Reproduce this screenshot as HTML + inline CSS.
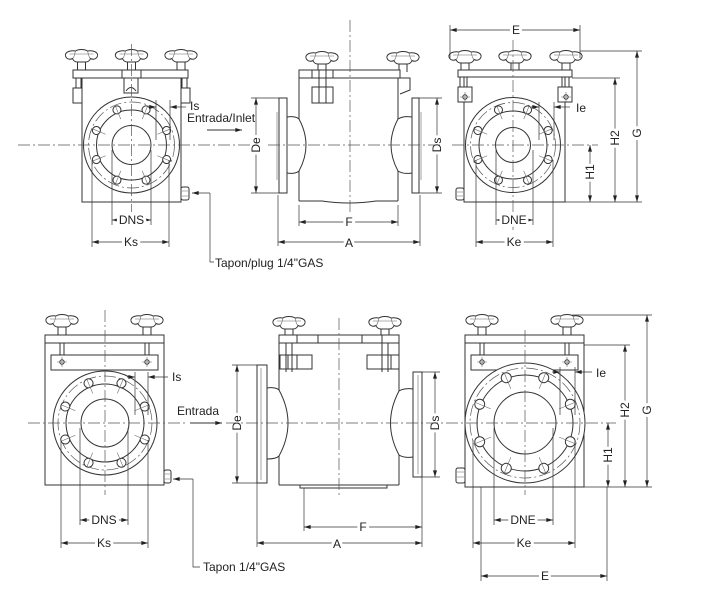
<!DOCTYPE html>
<html><head><meta charset="utf-8"><style>
html,body{margin:0;padding:0;background:#fff}
svg{display:block}
.l{stroke:#333;stroke-width:1;fill:none}
.f{stroke:#333;stroke-width:1;fill:#fff}
.c{stroke:#555;stroke-width:0.7;stroke-dasharray:12 3 2 3;fill:none}
.d{stroke:#333;stroke-width:0.7;fill:none}
.h{stroke:#666;stroke-width:0.6;fill:none}
text{font-family:"Liberation Sans",Arial,sans-serif;font-size:12px;fill:#222}
.t{paint-order:stroke;stroke:#fff;stroke-width:6px;stroke-linejoin:round}
</style></head><body>
<svg width="704" height="600" viewBox="0 0 704 600" xmlns="http://www.w3.org/2000/svg">
<defs>
<marker id="a" viewBox="0 0 10 6" refX="10" refY="3" markerWidth="7" markerHeight="4" orient="auto-start-reverse" markerUnits="userSpaceOnUse"><path d="M0,0 L10,3 L0,6 Z" fill="#222"/></marker>
<g id="knob">
<path class="f" d="M-16,6 C-17,2 -11,0 -6,1 C-3,-1 3,-1 6,1 C11,0 17,2 16,6 C15,9 12,10 9,8.5 C8,11 6,12 4,12 L-4,12 C-6,12 -8,11 -9,8.5 C-12,10 -15,9 -16,6 Z"/>
<path class="h" d="M-6,1 C-7,4 -7,7 -9,8.5 M6,1 C7,4 7,7 9,8.5 M-12,4 L12,4"/>
<path class="l" d="M-4,12 L-4,20 M4,12 L4,20"/>
</g>
<g id="pin"><circle class="l" cx="0" cy="0" r="2.2"/><path class="h" d="M-5,0 H5 M0,-5 V5"/></g>
</defs>

<!-- ================= TOP LEFT ================= -->
<g>
<use href="#knob" x="81.5" y="50"/><use href="#knob" x="131.5" y="50"/><use href="#knob" x="181" y="50"/>
<rect class="f" x="73" y="70" width="115" height="8"/>
<rect class="l" x="122" y="70" width="19" height="8"/>
<path class="l" d="M82,78 V202 H181 V78"/>
<path class="l" d="M76,78 V88 M81,78 V88"/><rect class="f" x="73" y="88" width="9" height="15"/>
<path class="l" d="M182,78 V88 M187,78 V88"/><rect class="f" x="181" y="88" width="9" height="15"/>
<path class="l" d="M124,78 V93 H138 V78 M126,91 Q131,84 136,91"/>
<circle class="f" cx="131.5" cy="145" r="48"/>
<circle class="c" cx="131.5" cy="145" r="43"/>
<circle class="l" cx="131.5" cy="145" r="35"/>
<circle class="l" cx="131.5" cy="145" r="19.5"/>
<g transform="translate(131.5,145)">
<g transform="rotate(22.5)"><circle class="f" cx="0" cy="-38" r="4"/><path class="h" d="M0,-42 V-28"/></g>
<g transform="rotate(67.5)"><circle class="f" cx="0" cy="-38" r="4"/><path class="h" d="M0,-42 V-28"/></g>
<g transform="rotate(112.5)"><circle class="f" cx="0" cy="-38" r="4"/><path class="h" d="M0,-42 V-28"/></g>
<g transform="rotate(157.5)"><circle class="f" cx="0" cy="-38" r="4"/><path class="h" d="M0,-42 V-28"/></g>
<g transform="rotate(202.5)"><circle class="f" cx="0" cy="-38" r="4"/><path class="h" d="M0,-42 V-28"/></g>
<g transform="rotate(247.5)"><circle class="f" cx="0" cy="-38" r="4"/><path class="h" d="M0,-42 V-28"/></g>
<g transform="rotate(292.5)"><circle class="f" cx="0" cy="-38" r="4"/><path class="h" d="M0,-42 V-28"/></g>
<g transform="rotate(337.5)"><circle class="f" cx="0" cy="-38" r="4"/><path class="h" d="M0,-42 V-28"/></g>
</g>
<path class="c" d="M131.5,44 V212"/>
<path class="d" d="M156,100 V140 M170,100 V140"/>
<path class="d" d="M148,107 H156" marker-end="url(#a)"/><path class="d" d="M186,107 H170" marker-end="url(#a)"/>
<text x="190" y="110">Is</text>
<text x="187" y="122">Entrada/Inlet</text>
<path class="l" d="M207,130 H242" stroke-width="1.3" marker-end="url(#a)"/>
<path class="d" d="M112,150 V225 M151,150 V225"/>
<path class="d" d="M112,220 H151" marker-start="url(#a)" marker-end="url(#a)"/>
<text class="t" x="131.5" y="224" text-anchor="middle">DNS</text>
<path class="d" d="M92,160 V247 M169,160 V247"/>
<path class="d" d="M92,242 H169" marker-start="url(#a)" marker-end="url(#a)"/>
<text class="t" x="131" y="246" text-anchor="middle">Ks</text>
<rect class="f" x="181" y="187" width="8" height="13" rx="2"/>
<path class="h" d="M182,191 H188 M182,196 H188"/>
<path class="d" d="M210,193 H192" marker-end="url(#a)"/>
<path class="d" d="M210,193 V262 H214"/>
<text x="215" y="267">Tapon/plug 1/4"GAS</text>
</g>

<!-- ================= TOP MIDDLE ================= -->
<g>
<use href="#knob" x="322" y="52"/><use href="#knob" x="403" y="52"/>
<rect class="f" x="299" y="70" width="101" height="8"/>
<path class="l" d="M312,70 V78 M333,70 V78"/>
<rect class="f" x="312" y="87" width="21" height="16"/>
<path class="l" d="M319,70 V103 M326,70 V103"/>
<path class="l" d="M399,78 H410 V90 L400,94"/>
<path class="l" d="M299,78 V119 M299,171 V201 M398,78 V119 M398,171 V201"/>
<path class="l" d="M299,201 H322 Q349,205 376,201 H398"/>
<rect class="f" x="279" y="98" width="8" height="95"/>
<path class="h" d="M277,112 V180"/>
<path class="l" d="M287,117 C292,116 297,117 299,119 Q313,145 299,171 C297,173 292,174 287,173"/>
<rect class="f" x="412" y="98" width="7" height="95"/>
<path class="h" d="M421,112 V180"/>
<path class="l" d="M412,117 C406,116 401,117 398,119 Q384,145 398,171 C401,173 406,174 412,173"/>
<path class="c" d="M350,20 V215"/>
<path class="d" d="M251,98 H279 M251,193 H279"/>
<path class="d" d="M256,98 V193" marker-start="url(#a)" marker-end="url(#a)"/>
<text class="t" transform="translate(260,145) rotate(-90)" text-anchor="middle">De</text>
<path class="d" d="M419,98 H442 M419,193 H442"/>
<path class="d" d="M437,98 V193" marker-start="url(#a)" marker-end="url(#a)"/>
<text class="t" transform="translate(441,145) rotate(-90)" text-anchor="middle">Ds</text>
<path class="d" d="M299,205 V226 M398,205 V226"/>
<path class="d" d="M299,222 H398" marker-start="url(#a)" marker-end="url(#a)"/>
<text class="t" x="349" y="226" text-anchor="middle">F</text>
<path class="d" d="M278,195 V246 M420,195 V246"/>
<path class="d" d="M278,242 H420" marker-start="url(#a)" marker-end="url(#a)"/>
<text class="t" x="349" y="247" text-anchor="middle">A</text>
</g>

<!-- ================= TOP RIGHT ================= -->
<g>
<use href="#knob" x="465" y="51"/><use href="#knob" x="515" y="51"/><use href="#knob" x="566" y="51"/>
<rect class="f" x="458" y="70" width="114" height="7"/>
<path class="l" d="M464,77 V202 H565 V77"/>
<path class="l" d="M460,77 V87 M467,77 V87"/><rect class="f" x="458" y="87" width="14" height="15"/><use href="#pin" x="465" y="97"/>
<path class="l" d="M562,77 V87 M569,77 V87"/><rect class="f" x="558" y="87" width="14" height="15"/><use href="#pin" x="566" y="97"/>
<circle class="f" cx="513" cy="145" r="47.5"/>
<circle class="c" cx="513" cy="145" r="42.5"/>
<circle class="l" cx="513" cy="145" r="34"/>
<circle class="l" cx="513" cy="145" r="17.5"/>
<g transform="translate(513,145)">
<g transform="rotate(22.5)"><circle class="f" cx="0" cy="-38" r="4"/><path class="h" d="M0,-42 V-28"/></g>
<g transform="rotate(67.5)"><circle class="f" cx="0" cy="-38" r="4"/><path class="h" d="M0,-42 V-28"/></g>
<g transform="rotate(112.5)"><circle class="f" cx="0" cy="-38" r="4"/><path class="h" d="M0,-42 V-28"/></g>
<g transform="rotate(157.5)"><circle class="f" cx="0" cy="-38" r="4"/><path class="h" d="M0,-42 V-28"/></g>
<g transform="rotate(202.5)"><circle class="f" cx="0" cy="-38" r="4"/><path class="h" d="M0,-42 V-28"/></g>
<g transform="rotate(247.5)"><circle class="f" cx="0" cy="-38" r="4"/><path class="h" d="M0,-42 V-28"/></g>
<g transform="rotate(292.5)"><circle class="f" cx="0" cy="-38" r="4"/><path class="h" d="M0,-42 V-28"/></g>
<g transform="rotate(337.5)"><circle class="f" cx="0" cy="-38" r="4"/><path class="h" d="M0,-42 V-28"/></g>
</g>
<path class="c" d="M513,40 V230"/>
<path class="d" d="M450,25 V58 M580,25 V58"/>
<path class="d" d="M450,30 H580" marker-start="url(#a)" marker-end="url(#a)"/>
<text class="t" x="516" y="34" text-anchor="middle">E</text>
<path class="d" d="M539,102 V140 M554,102 V140"/>
<path class="d" d="M531,107 H539" marker-end="url(#a)"/><path class="d" d="M570,107 H554" marker-end="url(#a)"/>
<text x="576" y="112">Ie</text>
<path class="d" d="M496,150 V225 M533,150 V225"/>
<path class="d" d="M496,220 H533" marker-start="url(#a)" marker-end="url(#a)"/>
<text class="t" x="514" y="224" text-anchor="middle">DNE</text>
<path class="d" d="M476,160 V247 M553,160 V247"/>
<path class="d" d="M476,242 H553" marker-start="url(#a)" marker-end="url(#a)"/>
<text class="t" x="514" y="246" text-anchor="middle">Ke</text>
<path class="d" d="M580,51 H642 M572,78 H620 M565,202 H642"/>
<path class="d" d="M590,145 V202" marker-start="url(#a)" marker-end="url(#a)"/>
<text class="t" transform="translate(594,172) rotate(-90)" text-anchor="middle">H1</text>
<path class="d" d="M615,78 V202" marker-start="url(#a)" marker-end="url(#a)"/>
<text class="t" transform="translate(619,138) rotate(-90)" text-anchor="middle">H2</text>
<path class="d" d="M637,51 V202" marker-start="url(#a)" marker-end="url(#a)"/>
<text class="t" transform="translate(641,133) rotate(-90)" text-anchor="middle">G</text>
<rect class="f" x="456" y="188" width="8" height="12" rx="2"/>
<path class="h" d="M457,192 H463 M457,196 H463"/>
</g>
<path class="c" d="M18,145 H250 M268,145 H440 M452,145 H598"/>

<!-- ================= BOTTOM LEFT ================= -->
<g>
<use href="#knob" x="62" y="315"/><use href="#knob" x="147" y="315"/>
<rect class="f" x="45" y="335" width="119" height="8"/>
<path class="l" d="M45,343 V485 H164 V343"/>
<path class="l" d="M60,343 V355 M64,343 V355 M145,343 V355 M149,343 V355"/>
<rect class="f" x="51" y="355" width="107" height="15"/>
<use href="#pin" x="62" y="362"/><use href="#pin" x="147" y="362"/>
<circle class="f" cx="105" cy="423" r="52"/>
<circle class="c" cx="105" cy="423" r="47"/>
<circle class="l" cx="105" cy="423" r="39"/>
<circle class="l" cx="105" cy="423" r="24"/>
<g transform="translate(105,423)">
<g transform="rotate(22.5)"><circle class="f" cx="0" cy="-43" r="4.5"/><path class="h" d="M0,-47 V-32"/></g>
<g transform="rotate(67.5)"><circle class="f" cx="0" cy="-43" r="4.5"/><path class="h" d="M0,-47 V-32"/></g>
<g transform="rotate(112.5)"><circle class="f" cx="0" cy="-43" r="4.5"/><path class="h" d="M0,-47 V-32"/></g>
<g transform="rotate(157.5)"><circle class="f" cx="0" cy="-43" r="4.5"/><path class="h" d="M0,-47 V-32"/></g>
<g transform="rotate(202.5)"><circle class="f" cx="0" cy="-43" r="4.5"/><path class="h" d="M0,-47 V-32"/></g>
<g transform="rotate(247.5)"><circle class="f" cx="0" cy="-43" r="4.5"/><path class="h" d="M0,-47 V-32"/></g>
<g transform="rotate(292.5)"><circle class="f" cx="0" cy="-43" r="4.5"/><path class="h" d="M0,-47 V-32"/></g>
<g transform="rotate(337.5)"><circle class="f" cx="0" cy="-43" r="4.5"/><path class="h" d="M0,-47 V-32"/></g>
</g>
<path class="c" d="M105,310 V495"/>
<path class="d" d="M135,372 V415 M148,372 V415"/>
<path class="d" d="M127,377 H135" marker-end="url(#a)"/><path class="d" d="M168,377 H148" marker-end="url(#a)"/>
<text x="172" y="381">Is</text>
<text x="177" y="415">Entrada</text>
<path class="l" d="M190,423 H222" stroke-width="1.3" marker-end="url(#a)"/>
<path class="d" d="M80,428 V525 M128,428 V525"/>
<path class="d" d="M80,520 H128" marker-start="url(#a)" marker-end="url(#a)"/>
<text class="t" x="104" y="524" text-anchor="middle">DNS</text>
<path class="d" d="M61,440 V548 M148,440 V548"/>
<path class="d" d="M61,543 H148" marker-start="url(#a)" marker-end="url(#a)"/>
<text class="t" x="104" y="547" text-anchor="middle">Ks</text>
<rect class="f" x="164" y="470" width="7" height="13" rx="2"/>
<path class="h" d="M165,474 H170 M165,479 H170"/>
<path class="d" d="M193,479 H173" marker-end="url(#a)"/>
<path class="d" d="M193,479 V567 H200"/>
<text x="203" y="571">Tapon 1/4"GAS</text>
</g>

<!-- ================= BOTTOM MIDDLE ================= -->
<g>
<use href="#knob" x="289" y="317"/><use href="#knob" x="385" y="317"/>
<rect class="f" x="279" y="335" width="120" height="8"/>
<path class="l" d="M297,335 V343 M318,335 V343 M362,335 V343 M382,335 V343"/>
<rect class="f" x="280" y="355" width="32" height="14"/>
<rect class="l" x="288" y="355" width="9" height="14"/>
<rect class="f" x="367" y="355" width="32" height="14"/>
<rect class="l" x="382" y="355" width="9" height="14"/>
<path class="l" d="M286,343 V372 M292,343 V372 M382,343 V372 M388,343 V372"/>
<path class="l" d="M279,343 V390 M279,456 V485 M399,343 V391 M399,455 V485"/>
<path class="l" d="M279,485 H399 M300,485 V488 H387 V485"/>
<rect class="f" x="257" y="365" width="10" height="118"/>
<path class="h" d="M261,368 V480"/>
<path class="l" d="M267,388 C272,387 277,388 279,390 Q297,423 279,456 C277,458 272,459 267,459"/>
<rect class="f" x="413" y="372" width="9" height="105"/>
<path class="h" d="M418,375 V474"/>
<path class="l" d="M413,389 C408,388 402,389 399,391 Q382,423 399,455 C402,457 408,458 413,457"/>
<path class="c" d="M339,318 V495"/>
<path class="d" d="M232,365 H257 M232,483 H257"/>
<path class="d" d="M237,365 V483" marker-start="url(#a)" marker-end="url(#a)"/>
<text class="t" transform="translate(241,423) rotate(-90)" text-anchor="middle">De</text>
<path class="d" d="M422,372 H440 M422,477 H440"/>
<path class="d" d="M435,372 V477" marker-start="url(#a)" marker-end="url(#a)"/>
<text class="t" transform="translate(439,423) rotate(-90)" text-anchor="middle">Ds</text>
<path class="d" d="M304,488 V531 M422,477 V547"/>
<path class="d" d="M304,527 H422" marker-start="url(#a)" marker-end="url(#a)"/>
<text class="t" x="363" y="531" text-anchor="middle">F</text>
<path class="d" d="M257,483 V547"/>
<path class="d" d="M257,543 H422" marker-start="url(#a)" marker-end="url(#a)"/>
<text class="t" x="337" y="548" text-anchor="middle">A</text>
</g>

<!-- ================= BOTTOM RIGHT ================= -->
<g>
<use href="#knob" x="482" y="315"/><use href="#knob" x="567" y="315"/>
<rect class="f" x="465" y="335" width="119" height="8"/>
<path class="l" d="M465,343 V487 H584 V343"/>
<path class="l" d="M480,343 V355 M484,343 V355 M565,343 V355 M569,343 V355"/>
<rect class="f" x="471" y="355" width="107" height="15"/>
<use href="#pin" x="482" y="362"/><use href="#pin" x="567" y="362"/>
<circle class="f" cx="525" cy="423" r="60"/>
<circle class="c" cx="525" cy="423" r="55"/>
<circle class="l" cx="525" cy="423" r="48"/>
<circle class="l" cx="525" cy="423" r="31"/>
<g transform="translate(525,423)">
<g transform="rotate(22.5)"><circle class="f" cx="0" cy="-49" r="5"/><path class="h" d="M0,-53 V-37"/></g>
<g transform="rotate(67.5)"><circle class="f" cx="0" cy="-49" r="5"/><path class="h" d="M0,-53 V-37"/></g>
<g transform="rotate(112.5)"><circle class="f" cx="0" cy="-49" r="5"/><path class="h" d="M0,-53 V-37"/></g>
<g transform="rotate(157.5)"><circle class="f" cx="0" cy="-49" r="5"/><path class="h" d="M0,-53 V-37"/></g>
<g transform="rotate(202.5)"><circle class="f" cx="0" cy="-49" r="5"/><path class="h" d="M0,-53 V-37"/></g>
<g transform="rotate(247.5)"><circle class="f" cx="0" cy="-49" r="5"/><path class="h" d="M0,-53 V-37"/></g>
<g transform="rotate(292.5)"><circle class="f" cx="0" cy="-49" r="5"/><path class="h" d="M0,-53 V-37"/></g>
<g transform="rotate(337.5)"><circle class="f" cx="0" cy="-49" r="5"/><path class="h" d="M0,-53 V-37"/></g>
</g>
<path class="c" d="M525,330 V495"/>
<path class="d" d="M560,367 V415 M575,367 V415"/>
<path class="d" d="M552,372 H560" marker-end="url(#a)"/><path class="d" d="M592,372 H575" marker-end="url(#a)"/>
<text x="596" y="377">Ie</text>
<path class="d" d="M494,428 V525 M553,428 V525"/>
<path class="d" d="M494,520 H553" marker-start="url(#a)" marker-end="url(#a)"/>
<text class="t" x="523" y="524" text-anchor="middle">DNE</text>
<path class="d" d="M473,440 V548 M575,440 V548"/>
<path class="d" d="M473,543 H575" marker-start="url(#a)" marker-end="url(#a)"/>
<text class="t" x="524" y="547" text-anchor="middle">Ke</text>
<path class="d" d="M481,487 V581 M607,487 V581"/>
<path class="d" d="M481,576 H607" marker-start="url(#a)" marker-end="url(#a)"/>
<text class="t" x="545" y="580" text-anchor="middle">E</text>
<path class="d" d="M572,315 H652 M584,345 H630 M584,487 H652"/>
<path class="d" d="M608,423 V487" marker-start="url(#a)" marker-end="url(#a)"/>
<text class="t" transform="translate(612,455) rotate(-90)" text-anchor="middle">H1</text>
<path class="d" d="M625,345 V487" marker-start="url(#a)" marker-end="url(#a)"/>
<text class="t" transform="translate(629,410) rotate(-90)" text-anchor="middle">H2</text>
<path class="d" d="M647,315 V487" marker-start="url(#a)" marker-end="url(#a)"/>
<text class="t" transform="translate(651,410) rotate(-90)" text-anchor="middle">G</text>
<rect class="f" x="456" y="468" width="9" height="15" rx="2"/>
<path class="h" d="M457,472 H464 M457,477 H464"/>
</g>
<path class="c" d="M28,423 H188 M226,423 H616"/>
</svg>
</body></html>
